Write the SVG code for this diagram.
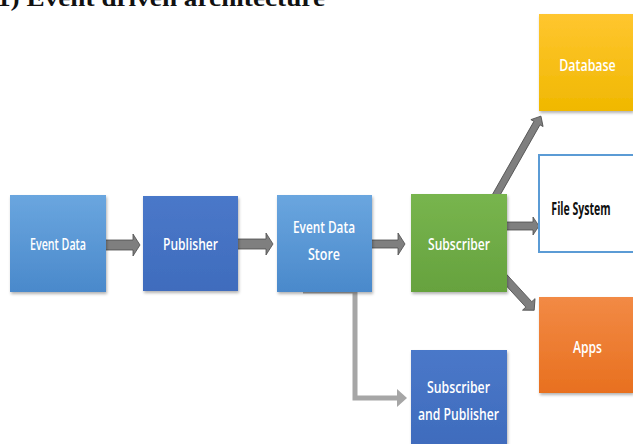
<svg xmlns="http://www.w3.org/2000/svg" width="633" height="444" viewBox="0 0 633 444">
  <defs>
    <linearGradient id="gLight" x1="0" y1="0" x2="0" y2="1">
      <stop offset="0" stop-color="#6aa6df"/>
      <stop offset="1" stop-color="#4a89cb"/>
    </linearGradient>
    <linearGradient id="gDark" x1="0" y1="0" x2="0" y2="1">
      <stop offset="0" stop-color="#4a78c9"/>
      <stop offset="1" stop-color="#3f6cbd"/>
    </linearGradient>
    <linearGradient id="gGreen" x1="0" y1="0" x2="0" y2="1">
      <stop offset="0" stop-color="#78b54e"/>
      <stop offset="1" stop-color="#66a23e"/>
    </linearGradient>
    <linearGradient id="gGold" x1="0" y1="0" x2="0" y2="1">
      <stop offset="0" stop-color="#ffc630"/>
      <stop offset="1" stop-color="#f0b800"/>
    </linearGradient>
    <linearGradient id="gOrange" x1="0" y1="0" x2="0" y2="1">
      <stop offset="0" stop-color="#f28a45"/>
      <stop offset="1" stop-color="#e8701f"/>
    </linearGradient>
    <filter id="shadow" x="-10%" y="-10%" width="125%" height="125%">
      <feDropShadow dx="1" dy="2" stdDeviation="1.5" flood-color="#000" flood-opacity="0.3"/>
    </filter>
  </defs>
  <style>
    .label { font-family: "Open Sans", "Liberation Sans", sans-serif; font-size: 17px; font-weight: 600; fill: #ffffff; text-anchor: middle; }
    .dark { fill: #111111; font-weight: 700; }
    .title { font-family: "Liberation Serif", "Times New Roman", serif; font-size: 24px; font-weight: bold; fill: #111111; }
    .block { fill: #7f7f7f; stroke: #4d4d4d; stroke-width: 0.8; }
    .elbow { fill: none; stroke: #a6a6a6; stroke-width: 5; }
  </style>

  <rect width="633" height="444" fill="#ffffff"/>

  <!-- heading, clipped by the top edge -->
  <text class="title" x="-3" y="6" textLength="328" lengthAdjust="spacingAndGlyphs">1) Event driven architecture</text>

  <!-- connectors -->
  <g id="connectors">
    <polygon class="block" points="97,240 133,240 133,234 140,245 133,256 133,250 97,250"/>
    <polygon class="block" points="231,239 266,239 266,233 273,244 266,255 266,249 231,249"/>
    <polygon class="block" points="362,240 398,240 398,233 405,244 398,255 398,248 362,248"/>
    <polygon class="block" points="495,222 533,222 533,217 539,226 533,235 533,230 495,230"/>
    <polygon class="block" transform="translate(495,197) rotate(-60.4)" points="0,-3.5 85,-3.5 85,-7 93,0 85,7 85,3.5 0,3.5"/>
    <polygon class="block" transform="translate(499,272) rotate(47.4)" points="0,-4 44,-4 44,-8.5 52,0 44,8.5 44,4 0,4"/>
    <path class="elbow" d="M303,291 H355 V398 H398"/>
    <polygon points="397,389 407,398 397,407" fill="#a6a6a6"/>
  </g>

  <!-- nodes -->
  <g id="event-data">
    <rect x="10" y="195" width="96" height="97" fill="url(#gLight)" filter="url(#shadow)"/>
    <text class="label" x="58" y="250" textLength="56" lengthAdjust="spacingAndGlyphs">Event Data</text>
  </g>
  <g id="publisher">
    <rect x="143" y="196" width="95" height="95" fill="url(#gDark)" filter="url(#shadow)"/>
    <text class="label" x="190.5" y="250" textLength="55" lengthAdjust="spacingAndGlyphs">Publisher</text>
  </g>
  <g id="event-data-store">
    <rect x="277" y="195" width="95" height="97" fill="url(#gLight)" filter="url(#shadow)"/>
    <text class="label" x="324" y="233" textLength="62" lengthAdjust="spacingAndGlyphs">Event Data</text>
    <text class="label" x="324" y="260" textLength="32" lengthAdjust="spacingAndGlyphs">Store</text>
  </g>
  <g id="subscriber">
    <rect x="411" y="194" width="96" height="98" fill="url(#gGreen)" filter="url(#shadow)"/>
    <text class="label" x="459" y="250" textLength="62" lengthAdjust="spacingAndGlyphs">Subscriber</text>
  </g>
  <g id="database">
    <rect x="539" y="14" width="94" height="97" fill="url(#gGold)" filter="url(#shadow)"/>
    <text class="label" transform="translate(587.5,71) scale(0.73,1)">Database</text>
  </g>
  <g id="file-system">
    <rect x="539" y="155" width="95" height="97" fill="#ffffff" stroke="#5b9bd5" stroke-width="2"/>
    <text class="label dark" transform="translate(581,215) scale(0.62,1)">File System</text>
  </g>
  <g id="apps">
    <rect x="539" y="297" width="94" height="96" fill="url(#gOrange)" filter="url(#shadow)"/>
    <text class="label" x="587.5" y="353" textLength="29" lengthAdjust="spacingAndGlyphs">Apps</text>
  </g>
  <g id="subscriber-and-publisher">
    <rect x="411" y="350" width="96" height="94" fill="url(#gDark)" filter="url(#shadow)"/>
    <text class="label" x="458.5" y="393" textLength="63" lengthAdjust="spacingAndGlyphs">Subscriber</text>
    <text class="label" x="458.5" y="420" textLength="81" lengthAdjust="spacingAndGlyphs">and Publisher</text>
  </g>
</svg>
